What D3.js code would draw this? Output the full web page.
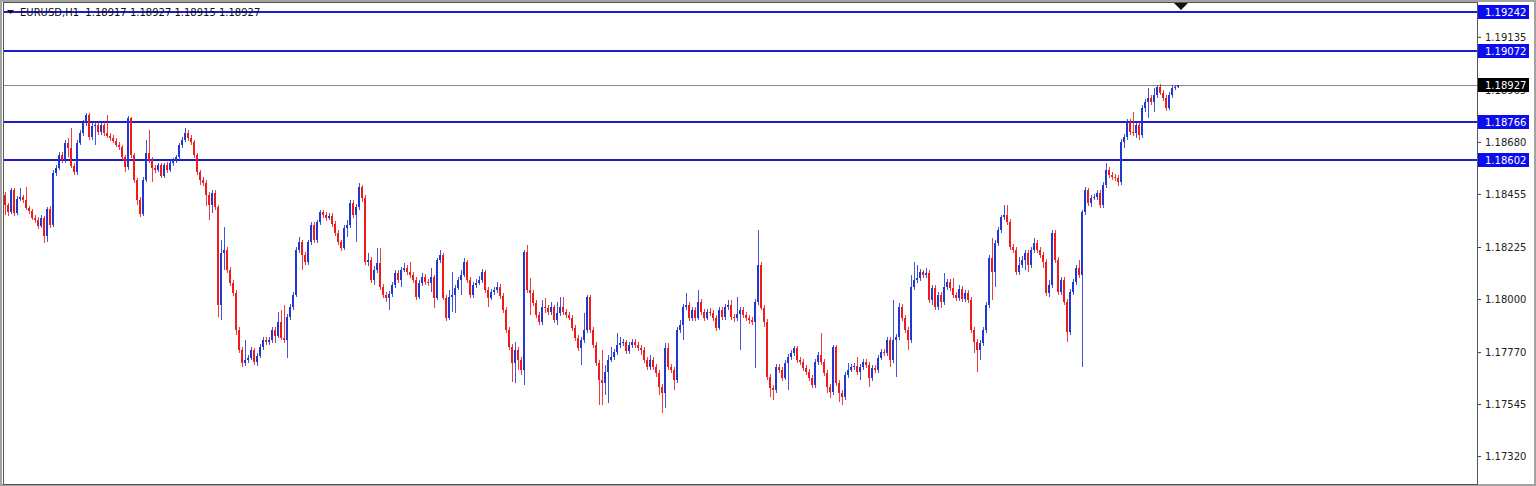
<!DOCTYPE html>
<html>
<head>
<meta charset="utf-8">
<script src="https://cdn.jsdelivr.net/npm/d3@7"></script>
<style>
  body { margin: 0; background: #fff; }
  svg { display: block; }
</style>
</head>
<body>
<div id="chart"></div>
<script>
const symbolTitle = "EURUSD,H1  1.18917 1.18927 1.18915 1.18927";
const firstOpen = 1.18450;

// hourly closes, highs and lows (open = previous close)
const closes = [
  1.18407, 1.18377, 1.18472, 1.18372, 1.18433, 1.18442, 1.18429, 1.18394, 1.18381, 1.18351,
  1.18342, 1.18316, 1.18351, 1.18273, 1.18390, 1.18320, 1.18546, 1.18567, 1.18624, 1.18602,
  1.18675, 1.18654, 1.18576, 1.18550, 1.18675, 1.18719, 1.18762, 1.18797, 1.18701, 1.18749,
  1.18753, 1.18723, 1.18753, 1.18719, 1.18706, 1.18697, 1.18684, 1.18667, 1.18658, 1.18615,
  1.18572, 1.18784, 1.18624, 1.18515, 1.18429, 1.18368, 1.18515, 1.18632, 1.18602, 1.18567,
  1.18559, 1.18580, 1.18533, 1.18580, 1.18559, 1.18589, 1.18602, 1.18615, 1.18667, 1.18688,
  1.18719, 1.18697, 1.18680, 1.18624, 1.18550, 1.18515,
  1.18502, 1.18450, 1.18407, 1.18459, 1.18398, 1.17974, 1.18199, 1.18212, 1.18126, 1.18069,
  1.18026, 1.17866, 1.17779, 1.17723, 1.17736, 1.17745, 1.17779, 1.17727, 1.17753, 1.17792,
  1.17822, 1.17814, 1.17822, 1.17866, 1.17840, 1.17900, 1.17831, 1.17822, 1.17922, 1.17965,
  1.18017, 1.18212, 1.18247, 1.18191, 1.18160, 1.18247, 1.18320, 1.18255, 1.18333, 1.18377,
  1.18364, 1.18351, 1.18359, 1.18325, 1.18286, 1.18247, 1.18221, 1.18307, 1.18320, 1.18416,
  1.18364, 1.18398, 1.18485, 1.18437, 1.18160, 1.18169, 1.18082, 1.18126, 1.18156, 1.18052,
  1.18017, 1.18004, 1.18022, 1.18061, 1.18113, 1.18082,
  1.18126, 1.18134, 1.18117, 1.18104, 1.18082, 1.18009, 1.18069, 1.18095, 1.18074, 1.18069,
  1.18095, 1.18004, 1.18169, 1.18191, 1.18004, 1.17918, 1.18009, 1.18017, 1.18048, 1.18082,
  1.18104, 1.18160, 1.18082, 1.18017, 1.18061, 1.18069, 1.18082, 1.18117, 1.18039, 1.18004,
  1.18030, 1.18039, 1.18052, 1.18013, 1.17952, 1.17866, 1.17792, 1.17723, 1.17779, 1.17736,
  1.17693, 1.18204, 1.18039, 1.18026, 1.17983, 1.17931, 1.17900, 1.17965, 1.17961, 1.17944,
  1.17965, 1.17909, 1.17939, 1.17965, 1.17944, 1.17931, 1.17918, 1.17874, 1.17831, 1.17788,
  1.17822, 1.17866, 1.18009, 1.17866, 1.17801, 1.17723, 1.17649, 1.17636, 1.17684, 1.17736,
  1.17749, 1.17771, 1.17801, 1.17809, 1.17814, 1.17775, 1.17801, 1.17814, 1.17801, 1.17788,
  1.17779, 1.17736, 1.17706, 1.17736, 1.17706, 1.17680, 1.17619, 1.17593, 1.17788, 1.17706,
  1.17693, 1.17649, 1.17866, 1.17887, 1.17965, 1.17974, 1.17918, 1.17952, 1.17918, 1.17987,
  1.17944, 1.17918, 1.17944, 1.17939, 1.17918, 1.17874, 1.17952, 1.17922, 1.17965, 1.17974,
  1.17922, 1.17918, 1.17935, 1.17952, 1.17931, 1.17918, 1.17909, 1.17900, 1.17987, 1.18147,
  1.17961, 1.17900, 1.17662, 1.17615, 1.17606, 1.17706, 1.17693, 1.17658, 1.17723, 1.17749,
  1.17766, 1.17788, 1.17736,
  1.17727, 1.17701, 1.17684, 1.17658, 1.17628, 1.17727, 1.17758, 1.17727, 1.17680, 1.17619,
  1.17597, 1.17792, 1.17636, 1.17593, 1.17576, 1.17671, 1.17693, 1.17706, 1.17710, 1.17684,
  1.17706, 1.17727, 1.17714, 1.17658, 1.17701, 1.17693, 1.17745, 1.17771, 1.17766, 1.17822,
  1.17736, 1.17822, 1.17835, 1.17965, 1.17918, 1.17866, 1.17822, 1.18052, 1.18082, 1.18091,
  1.18117, 1.18104, 1.18113, 1.17996, 1.18048, 1.17965, 1.18017, 1.17987, 1.18052, 1.18074,
  1.18048, 1.18017, 1.18004, 1.18043, 1.18000, 1.18026, 1.17996, 1.17866, 1.17814, 1.17779,
  1.17809, 1.17866, 1.17974, 1.18178, 1.18117, 1.18242, 1.18299, 1.18355, 1.18364, 1.18333,
  1.18225, 1.18212, 1.18117, 1.18147, 1.18169, 1.18199, 1.18147, 1.18212, 1.18242, 1.18212,
  1.18191, 1.18160, 1.18026, 1.18061, 1.18286, 1.18169, 1.18030, 1.18082, 1.17987, 1.17857,
  1.18030, 1.18074, 1.18134, 1.18104,
  1.18377, 1.18472, 1.18416, 1.18437, 1.18442, 1.18459, 1.18407, 1.18494, 1.18559, 1.18537,
  1.18528, 1.18524, 1.18507, 1.18680, 1.18701, 1.18766, 1.18723, 1.18719, 1.18753, 1.18710,
  1.18827, 1.18853, 1.18870, 1.18853, 1.18883, 1.18918, 1.18892, 1.18870, 1.18827, 1.18883,
  1.18914, 1.18917, 1.18927
];

const highs = [
  1.18463, 1.18416, 1.18481, 1.18481, 1.18446, 1.18481, 1.18450, 1.18485, 1.18403, 1.18390,
  1.18364, 1.18355, 1.18364, 1.18359, 1.18398, 1.18403, 1.18559, 1.18580, 1.18637, 1.18637,
  1.18688, 1.18697, 1.18740, 1.18589, 1.18688, 1.18732, 1.18775, 1.18805, 1.18805, 1.18762,
  1.18766, 1.18766, 1.18766, 1.18766, 1.18797, 1.18719, 1.18710, 1.18697, 1.18680, 1.18667,
  1.18624, 1.18792, 1.18788, 1.18632, 1.18524, 1.18442, 1.18528, 1.18688, 1.18732, 1.18615,
  1.18580, 1.18589, 1.18589, 1.18589, 1.18593, 1.18602, 1.18611, 1.18624, 1.18675, 1.18701,
  1.18740, 1.18732, 1.18710, 1.18688, 1.18632, 1.18559,
  1.18528, 1.18515, 1.18463, 1.18472, 1.18472, 1.18407, 1.18255, 1.18312, 1.18225, 1.18139,
  1.18082, 1.18039, 1.17879, 1.17792, 1.17822, 1.17758, 1.17792, 1.17788, 1.17766, 1.17805,
  1.17835, 1.17835, 1.17835, 1.17879, 1.17879, 1.17944, 1.17952, 1.17974, 1.17935, 1.17978,
  1.18030, 1.18225, 1.18268, 1.18255, 1.18204, 1.18255, 1.18333, 1.18333, 1.18342, 1.18385,
  1.18385, 1.18377, 1.18372, 1.18372, 1.18338, 1.18299, 1.18255, 1.18320, 1.18342, 1.18429,
  1.18429, 1.18411, 1.18502, 1.18494, 1.18450, 1.18199, 1.18182, 1.18143, 1.18221, 1.18221,
  1.18065, 1.18030, 1.18035, 1.18074, 1.18126, 1.18126,
  1.18139, 1.18156, 1.18147, 1.18160, 1.18117, 1.18095, 1.18082, 1.18113, 1.18108, 1.18087,
  1.18134, 1.18104, 1.18178, 1.18212, 1.18199, 1.18017, 1.18039, 1.18117, 1.18061, 1.18095,
  1.18126, 1.18178, 1.18169, 1.18095, 1.18074, 1.18087, 1.18100, 1.18130, 1.18126, 1.18052,
  1.18043, 1.18052, 1.18074, 1.18065, 1.18026, 1.17965, 1.17879, 1.17805, 1.17814, 1.17792,
  1.17749, 1.18212, 1.18234, 1.18091, 1.18039, 1.17996, 1.17944, 1.17996, 1.18004, 1.17974,
  1.17987, 1.17974, 1.17987, 1.18009, 1.18009, 1.17957, 1.17944, 1.17931, 1.17887, 1.17844,
  1.17835, 1.17939, 1.18017, 1.18017, 1.17879, 1.17814, 1.17736, 1.17779, 1.17714, 1.17758,
  1.17792, 1.17783, 1.17853, 1.17835, 1.17827, 1.17822, 1.17814, 1.17827, 1.17827, 1.17814,
  1.17801, 1.17792, 1.17749, 1.17758, 1.17749, 1.17719, 1.17693, 1.17632, 1.17809, 1.17809,
  1.17719, 1.17706, 1.17879, 1.17909, 1.17978, 1.18026, 1.17987, 1.17965, 1.17965, 1.18039,
  1.18000, 1.17957, 1.17957, 1.17961, 1.17952, 1.17931, 1.17965, 1.17965, 1.17978, 1.17996,
  1.17996, 1.17935, 1.18009, 1.17965, 1.17965, 1.17944, 1.17931, 1.17922, 1.18000, 1.18299,
  1.18160, 1.17974, 1.17913, 1.17675, 1.17628, 1.17719, 1.17719, 1.17706, 1.17736, 1.17762,
  1.17779, 1.17796, 1.17796,
  1.17749, 1.17740, 1.17714, 1.17697, 1.17671, 1.17740, 1.17771, 1.17853, 1.17740, 1.17693,
  1.17632, 1.17801, 1.17801, 1.17649, 1.17606, 1.17684, 1.17723, 1.17719, 1.17723, 1.17749,
  1.17719, 1.17740, 1.17740, 1.17727, 1.17714, 1.17714, 1.17758, 1.17783, 1.17783, 1.17835,
  1.17835, 1.17996, 1.17848, 1.17983, 1.17978, 1.17931, 1.17879, 1.18104, 1.18160, 1.18147,
  1.18130, 1.18126, 1.18134, 1.18126, 1.18061, 1.18061, 1.18030, 1.18030, 1.18113, 1.18087,
  1.18087, 1.18091, 1.18030, 1.18061, 1.18056, 1.18039, 1.18039, 1.18009, 1.17879, 1.17827,
  1.17822, 1.17879, 1.17987, 1.18191, 1.18264, 1.18255, 1.18312, 1.18364, 1.18407, 1.18407,
  1.18346, 1.18238, 1.18225, 1.18182, 1.18186, 1.18212, 1.18212, 1.18225, 1.18264, 1.18255,
  1.18225, 1.18204, 1.18173, 1.18082, 1.18299, 1.18299, 1.18182, 1.18095, 1.18095, 1.18000,
  1.18043, 1.18087, 1.18147, 1.18169,
  1.18385, 1.18485, 1.18481, 1.18450, 1.18455, 1.18472, 1.18472, 1.18507, 1.18589, 1.18572,
  1.18550, 1.18541, 1.18537, 1.18693, 1.18714, 1.18779, 1.18779, 1.18810, 1.18766, 1.18766,
  1.18840, 1.18866, 1.18914, 1.18883, 1.18914, 1.18927, 1.18931, 1.18905, 1.18883, 1.18896,
  1.18927, 1.18927, 1.18927
];

const lows = [
  1.18364, 1.18359, 1.18368, 1.18359, 1.18364, 1.18424, 1.18416, 1.18385, 1.18368, 1.18342,
  1.18329, 1.18303, 1.18307, 1.18242, 1.18247, 1.18307, 1.18312, 1.18533, 1.18559, 1.18589,
  1.18589, 1.18615, 1.18567, 1.18537, 1.18537, 1.18667, 1.18706, 1.18749, 1.18688, 1.18688,
  1.18667, 1.18710, 1.18710, 1.18706, 1.18697, 1.18684, 1.18675, 1.18658, 1.18645, 1.18602,
  1.18550, 1.18559, 1.18611, 1.18502, 1.18407, 1.18355, 1.18359, 1.18507, 1.18589, 1.18507,
  1.18546, 1.18550, 1.18524, 1.18524, 1.18546, 1.18550, 1.18576, 1.18589, 1.18602, 1.18654,
  1.18680, 1.18684, 1.18667, 1.18611, 1.18537, 1.18494,
  1.18489, 1.18403, 1.18342, 1.18372, 1.18385, 1.17922, 1.17909, 1.18126, 1.18113, 1.18056,
  1.18013, 1.17844, 1.17766, 1.17706, 1.17710, 1.17723, 1.17736, 1.17714, 1.17710, 1.17745,
  1.17779, 1.17801, 1.17801, 1.17809, 1.17809, 1.17831, 1.17822, 1.17809, 1.17745, 1.17909,
  1.17952, 1.18009, 1.18199, 1.18126, 1.18147, 1.18147, 1.18234, 1.18242, 1.18242, 1.18320,
  1.18351, 1.18338, 1.18342, 1.18312, 1.18273, 1.18234, 1.18208, 1.18212, 1.18268, 1.18307,
  1.18351, 1.18247, 1.18385, 1.18420, 1.18147, 1.18143, 1.18069, 1.18061, 1.18113, 1.18039,
  1.18004, 1.17987, 1.17952, 1.18009, 1.18048, 1.18069,
  1.18052, 1.18117, 1.18104, 1.18091, 1.18069, 1.17996, 1.18000, 1.18056, 1.18061, 1.18056,
  1.18030, 1.17961, 1.17996, 1.18156, 1.17996, 1.17905, 1.17909, 1.17944, 1.17939, 1.18039,
  1.18017, 1.18095, 1.18069, 1.18004, 1.18004, 1.18048, 1.18061, 1.18069, 1.18026, 1.17965,
  1.17996, 1.18017, 1.18026, 1.18000, 1.17939, 1.17853, 1.17779, 1.17641, 1.17636, 1.17693,
  1.17671, 1.17628, 1.18026, 1.17931, 1.17970, 1.17918, 1.17887, 1.17887, 1.17939, 1.17931,
  1.17931, 1.17896, 1.17887, 1.17926, 1.17931, 1.17918, 1.17909, 1.17861, 1.17818, 1.17775,
  1.17714, 1.17809, 1.17853, 1.17853, 1.17788, 1.17710, 1.17541, 1.17541, 1.17584, 1.17550,
  1.17727, 1.17736, 1.17758, 1.17788, 1.17796, 1.17762, 1.17762, 1.17788, 1.17788, 1.17775,
  1.17758, 1.17723, 1.17693, 1.17693, 1.17693, 1.17662, 1.17584, 1.17506, 1.17528, 1.17693,
  1.17680, 1.17606, 1.17636, 1.17853, 1.17822, 1.17952, 1.17905, 1.17905, 1.17905, 1.17909,
  1.17931, 1.17905, 1.17909, 1.17926, 1.17905, 1.17861, 1.17866, 1.17909, 1.17909, 1.17952,
  1.17909, 1.17900, 1.17905, 1.17779, 1.17918, 1.17905, 1.17892, 1.17887, 1.17701, 1.17974,
  1.17952, 1.17879, 1.17649, 1.17576, 1.17563, 1.17593, 1.17680, 1.17645, 1.17649, 1.17606,
  1.17736, 1.17753, 1.17723,
  1.17714, 1.17688, 1.17671, 1.17645, 1.17615, 1.17615, 1.17714, 1.17714, 1.17667, 1.17593,
  1.17571, 1.17584, 1.17623, 1.17554, 1.17541, 1.17563, 1.17658, 1.17684, 1.17693, 1.17671,
  1.17649, 1.17693, 1.17701, 1.17619, 1.17645, 1.17680, 1.17680, 1.17736, 1.17753, 1.17753,
  1.17706, 1.17723, 1.17662, 1.17822, 1.17905, 1.17853, 1.17779, 1.17809, 1.18039, 1.18069,
  1.18078, 1.18091, 1.18091, 1.17983, 1.17974, 1.17952, 1.17952, 1.17961, 1.17974, 1.18039,
  1.18035, 1.18004, 1.17991, 1.17991, 1.17987, 1.17987, 1.17983, 1.17853, 1.17766, 1.17684,
  1.17736, 1.17796, 1.17853, 1.17961, 1.17996, 1.18052, 1.18229, 1.18286, 1.18342, 1.18320,
  1.18212, 1.18199, 1.18104, 1.18104, 1.18134, 1.18126, 1.18117, 1.18134, 1.18199, 1.18199,
  1.18178, 1.18134, 1.18013, 1.18009, 1.18048, 1.18156, 1.18017, 1.18017, 1.17974, 1.17814,
  1.17844, 1.18017, 1.18061, 1.18091,
  1.17706, 1.18364, 1.18403, 1.18398, 1.18429, 1.18429, 1.18394, 1.18394, 1.18481, 1.18524,
  1.18515, 1.18511, 1.18489, 1.18494, 1.18654, 1.18688, 1.18710, 1.18706, 1.18697, 1.18688,
  1.18697, 1.18810, 1.18784, 1.18840, 1.18810, 1.18870, 1.18883, 1.18857, 1.18814, 1.18818,
  1.18870, 1.18905, 1.18915
];

const levelPrices = [1.19242, 1.19072, 1.18766, 1.18602];
const lastPrice = 1.18927;
const priceTicks = [1.19135, 1.18905, 1.18680, 1.18455, 1.18225, 1.18000, 1.17770, 1.17545, 1.17320];
const priceRange = [1.17199, 1.19277];

const width = 1536;
const height = 486;
const plot = { left: 4, right: 1477, top: 4, bottom: 484 };
const font = "'DejaVu Sans', Verdana, sans-serif";
const bullColor = "#2236d0";
const bearColor = "#f01a1a";
const levelColor = "#1d1dcc";

const candles = closes.map((c, i) => ({
  i,
  open: i === 0 ? firstOpen : closes[i - 1],
  high: highs[i],
  low: lows[i],
  close: c
}));

const svg = d3.select("#chart")
  .append("svg")
  .attr("width", width)
  .attr("height", height);

svg.append("rect")
  .attr("width", width)
  .attr("height", height)
  .attr("fill", "#fff");

const x = d3.scaleLinear()
  .domain([0, candles.length - 1])
  .range([5, 1178]);

const y = d3.scaleLinear()
  .domain(priceRange)
  .range([plot.bottom, plot.top]);

// level lines behind the candles
svg.append("g")
  .selectAll("rect")
  .data(levelPrices)
  .join("rect")
  .attr("x", plot.left)
  .attr("y", d => Math.round(y(d)) - 1)
  .attr("width", plot.right - plot.left)
  .attr("height", 2)
  .attr("fill", levelColor);

svg.append("rect")
  .attr("x", plot.left)
  .attr("y", Math.round(y(lastPrice)))
  .attr("width", plot.right - plot.left)
  .attr("height", 1)
  .attr("fill", "#8a8a8a");

const bars = svg.append("g").attr("shape-rendering", "crispEdges");

bars.selectAll("rect.wick")
  .data(candles)
  .join("rect")
  .attr("class", "wick")
  .attr("x", d => Math.round(x(d.i)))
  .attr("y", d => Math.round(y(Math.max(d.high, d.open, d.close))))
  .attr("width", 1)
  .attr("height", d => Math.max(1, Math.round(y(Math.min(d.low, d.open, d.close))) - Math.round(y(Math.max(d.high, d.open, d.close)))))
  .attr("fill", d => d.close >= d.open ? bullColor : bearColor)
  .attr("opacity", 0.85);

bars.selectAll("rect.body")
  .data(candles)
  .join("rect")
  .attr("class", "body")
  .attr("x", d => Math.round(x(d.i)) - 1)
  .attr("y", d => Math.round(y(Math.max(d.open, d.close))))
  .attr("width", 2)
  .attr("height", d => Math.max(1, Math.round(y(Math.min(d.open, d.close))) - Math.round(y(Math.max(d.open, d.close)))))
  .attr("fill", d => d.close >= d.open ? bullColor : bearColor);

// price axis on the right
const axis = svg.append("g")
  .attr("transform", `translate(${plot.right},0)`)
  .call(d3.axisRight(y)
    .tickValues(priceTicks)
    .tickSize(4)
    .tickPadding(4)
    .tickFormat(d3.format(".5f")));
axis.select(".domain").remove();
axis.selectAll("line").attr("stroke", "#444");
axis.selectAll("text")
  .attr("font-family", font)
  .attr("font-size", "10px")
  .attr("fill", "#222");

// frame
svg.append("rect")
  .attr("x", 1)
  .attr("y", 1)
  .attr("width", width - 2)
  .attr("height", height - 2)
  .attr("fill", "none")
  .attr("stroke", "#a3a3a3")
  .attr("stroke-width", 2);

svg.append("rect")
  .attr("x", plot.left - 0.5)
  .attr("y", 2.5)
  .attr("width", plot.right - plot.left + 1)
  .attr("height", plot.bottom - 2)
  .attr("fill", "none")
  .attr("stroke", "#555")
  .attr("stroke-width", 1);

// price labels for the levels and the last price (the last one covers its tick, as in the terminal)
const tags = levelPrices.map(p => ({ price: p, fill: "#0c0cf0" }))
  .concat([{ price: lastPrice, fill: "#000" }]);

const tag = svg.append("g")
  .selectAll("g")
  .data(tags)
  .join("g")
  .attr("transform", d => `translate(${plot.right + 1},${Math.round(y(d.price))})`);

tag.append("rect")
  .attr("x", 0)
  .attr("y", -7)
  .attr("width", 51)
  .attr("height", 14)
  .attr("fill", d => d.fill);

tag.append("text")
  .attr("x", 7)
  .attr("y", 4)
  .attr("font-family", font)
  .attr("font-size", "10px")
  .attr("fill", "#fff")
  .text(d => d3.format(".5f")(d.price));

// symbol line in the top left corner
svg.append("path")
  .attr("d", "M7,10 L14,10 L10.5,14 Z")
  .attr("fill", "#111");

svg.append("text")
  .attr("x", 20)
  .attr("y", 16)
  .attr("font-family", font)
  .attr("font-size", "10px")
  .attr("fill", "#111")
  .attr("xml:space", "preserve")
  .style("white-space", "pre")
  .text(symbolTitle);

// chart shift marker above the last bar
const shiftX = x(candles.length - 1) + 3;
svg.append("path")
  .attr("d", `M${shiftX - 7},3 L${shiftX + 7},3 L${shiftX},10 Z`)
  .attr("fill", "#111");
</script>
</body>
</html>
